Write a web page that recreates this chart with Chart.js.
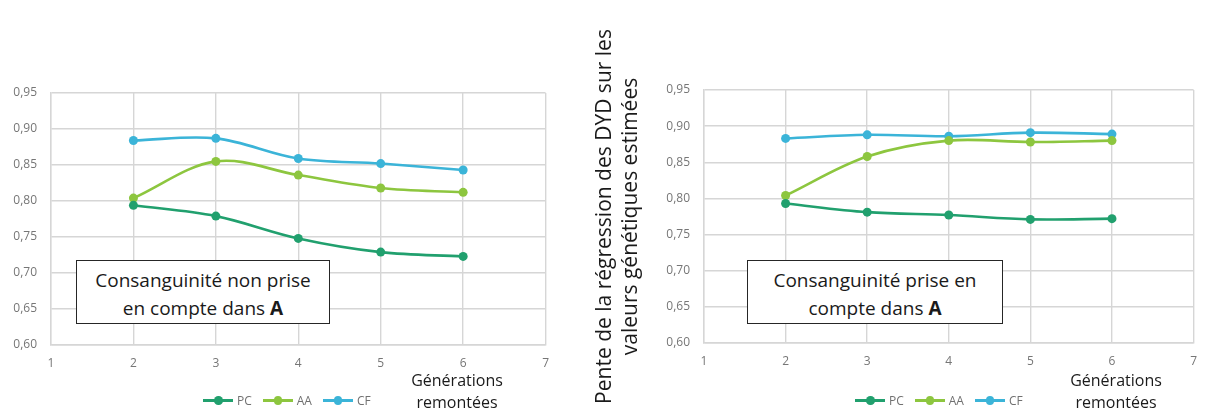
<!DOCTYPE html>
<html>
<head>
<meta charset="utf-8">
<script src="https://cdn.jsdelivr.net/npm/chart.js@4.4.1/dist/chart.umd.min.js"></script>
<style>
  body { margin: 0; background: #fff; font-family: "Open Sans", sans-serif; }
  #page { position: relative; width: 1208px; height: 410px; overflow: hidden; }
  canvas { position: absolute; top: 0; }
  .note {
    position: absolute; box-sizing: border-box; height: 64px;
    border: 1.5px solid #262626; background: #fff;
    text-align: center; font-size: 19px; line-height: 28px; color: #1a1a1a;
    padding-top: 5px;
  }
  .legend { position: absolute; top: 392px; display: flex; gap: 11px; font-size: 12px; color: #707070; }
  .legend .item { display: flex; align-items: center; gap: 4px; }
  .legend .mark { position: relative; width: 30px; height: 2.5px; }
  .legend .mark i { position: absolute; left: 11px; top: -3px; width: 8.5px; height: 8.5px; border-radius: 50%; }
  .xname { position: absolute; top: 369px; width: 120px; text-align: center; font-size: 16px; line-height: 22px; color: #1a1a1a; }
</style>
</head>
<body>
<div id="page">
  <canvas id="chartNon" width="560" height="410" style="left:0"></canvas>
  <canvas id="chartPrise" width="638" height="410" style="left:570px"></canvas>

  <div class="note" style="left:76px; top:260px; width:254px;">Consanguinité non prise<br>en compte dans <b>A</b></div>
  <div class="note" style="left:747px; top:260px; width:256px;">Consanguinité prise en<br>compte dans <b>A</b></div>

  <div class="legend" id="legendNon" style="left:203px"></div>
  <div class="legend" id="legendPrise" style="left:855px"></div>

  <div class="xname" style="left:397px">Générations<br>remontées</div>
  <div class="xname" style="left:1056px">Générations<br>remontées</div>
</div>
<script>
// valeurs
const generations = [2, 3, 4, 5, 6];
const seriesNames = ['PC', 'AA', 'CF'];
const seriesColors = ['#21a06e', '#8dc63f', '#3bb4d8'];

// consanguinité non prise en compte
const pcNon = [0.794, 0.779, 0.748, 0.729, 0.723];
const aaNon = [0.804, 0.855, 0.836, 0.818, 0.812];
const cfNon = [0.884, 0.887, 0.859, 0.852, 0.843];

// consanguinité prise en compte
const pcPrise = [0.793, 0.781, 0.777, 0.771, 0.772];
const aaPrise = [0.804, 0.858, 0.880, 0.878, 0.880];
const cfPrise = [0.883, 0.888, 0.886, 0.891, 0.889];

const yTickLabels = ['0,60', '0,65', '0,70', '0,75', '0,80', '0,85', '0,90', '0,95'];
const xTickLabels = ['1', '2', '3', '4', '5', '6', '7'];

const gridColor = '#d6d6d6';
const tickFont = { family: 'Open Sans', size: 12 };

function makeDatasets(values) {
    return values.map((vals, i) => ({
        label: seriesNames[i],
        data: generations.map((g, j) => ({ x: g, y: vals[j] })),
        borderColor: seriesColors[i],
        backgroundColor: seriesColors[i],
        borderWidth: 2.6,
        pointRadius: 4.5,
        pointBorderWidth: 0,
        tension: 0.35
    }));
}

function makeConfig(values, opts) {
    return {
        type: 'line',
        data: { datasets: makeDatasets(values) },
        options: {
            responsive: false,
            animation: false,
            layout: { padding: { top: opts.top, right: opts.right, left: 0, bottom: 0 } },
            plugins: { legend: { display: false }, tooltip: { enabled: false } },
            scales: {
                x: {
                    type: 'linear',
                    min: 1,
                    max: 7,
                    ticks: {
                        stepSize: 1,
                        padding: 11,
                        color: '#767676',
                        font: tickFont,
                        callback: (v) => xTickLabels[v - 1]
                    },
                    grid: { color: gridColor, lineWidth: 1.4, drawTicks: false },
                    border: { color: gridColor, width: 1.4 },
                    afterFit: (s) => { s.height = opts.xHeight; }
                },
                y: {
                    min: 0.6,
                    max: 0.95,
                    ticks: {
                        stepSize: 0.05,
                        padding: 14,
                        color: '#767676',
                        font: tickFont,
                        callback: (v) => yTickLabels[Math.round((v - 0.6) / 0.05)]
                    },
                    grid: { color: gridColor, lineWidth: 1.4, drawTicks: false },
                    border: { color: gridColor, width: 1.4 },
                    title: opts.title ? {
                        display: true,
                        text: opts.title,
                        color: '#1a1a1a',
                        font: { family: 'Open Sans', size: 21, lineHeight: 1.25 },
                        padding: { top: 22, bottom: 0 }
                    } : { display: false },
                    afterFit: (s) => { s.width = opts.yWidth; }
                }
            }
        }
    };
}

new Chart(document.getElementById('chartNon'),
    makeConfig([pcNon, aaNon, cfNon], { top: 93, right: 11, xHeight: 65, yWidth: 51 }));

new Chart(document.getElementById('chartPrise'),
    makeConfig([pcPrise, aaPrise, cfPrise], {
        top: 90, right: 6, xHeight: 67, yWidth: 134,
        title: ['Pente de la régression des DYD sur les', 'valeurs génétiques estimées']
    }));

// légendes
['legendNon', 'legendPrise'].forEach((id) => {
    const box = document.getElementById(id);
    seriesNames.forEach((name, i) => {
        const item = document.createElement('div');
        item.className = 'item';
        item.innerHTML = '<span class="mark" style="background:' + seriesColors[i] + '"><i style="background:' +
            seriesColors[i] + '"></i></span><span>' + name + '</span>';
        box.appendChild(item);
    });
});
</script>
</body>
</html>
